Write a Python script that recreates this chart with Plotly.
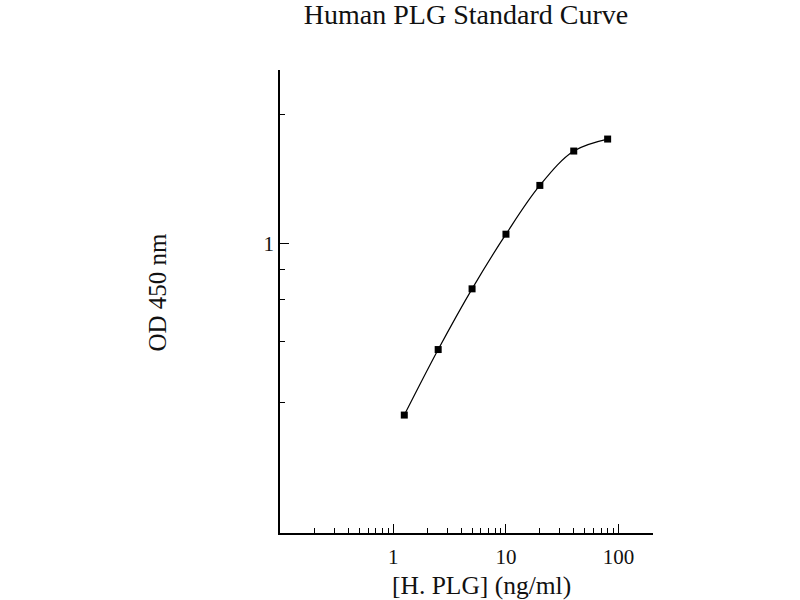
import plotly.graph_objects as go

conc = [1.25, 2.5, 5, 10, 20, 40, 80]
od = [0.400, 0.568, 0.786, 1.053, 1.367, 1.643, 1.752]

x_major = [1, 10, 100]
x_labels = ["1", "10", "100"]
x_minor = [0.2, 0.3, 0.4, 0.5, 0.6, 0.7, 0.8, 0.9,
           2, 3, 4, 5, 6, 7, 8, 9,
           20, 30, 40, 50, 60, 70, 80, 90, 200]
y_major = [1]
y_labels = ["1"]
y_minor = [2, 0.873, 0.742, 0.592, 0.428]

FONT = "Liberation Serif, Times New Roman, serif"

L, T, R, B = 280, 70, 652.7, 532.7
PW, PH = R - L, B - T

fig = go.Figure()
fig.add_trace(go.Scatter(
    x=conc, y=od, mode="lines+markers",
    line=dict(color="black", width=1.2, shape="spline", smoothing=1.0),
    marker=dict(symbol="square", size=7, color="black"),
    showlegend=False,
))

fig.update_layout(
    width=800, height=600,
    margin=dict(l=L, r=800 - R, t=T, b=600 - B),
    paper_bgcolor="white", plot_bgcolor="white",
    font=dict(family=FONT, color="#111", size=20),
    title=dict(text="Human PLG Standard Curve", x=466 / 800, xref="container",
               xanchor="center", y=1 - 14.5 / 600, yref="container", yanchor="middle",
               font=dict(family=FONT, size=28, color="#111")),
    xaxis=dict(type="log", range=[-1.007, 2.306], showline=True, linecolor="black",
               linewidth=1.5, showgrid=False, zeroline=False,
               ticks="inside", ticklen=9, tickwidth=1.3, tickcolor="black",
               tickvals=x_major, ticktext=x_labels,
               tickfont=dict(family=FONT, size=21, color="#111"),
               ticklabelstandoff=4,
               minor=dict(tickvals=x_minor, ticks="inside", ticklen=5,
                          tickwidth=1.3, tickcolor="black", showgrid=False)),
    yaxis=dict(type="log", range=[-0.672, 0.404], showline=True, linecolor="black",
               linewidth=1.5, showgrid=False, zeroline=False,
               ticks="inside", ticklen=9, tickwidth=1.3, tickcolor="black",
               tickvals=y_major, ticktext=y_labels,
               tickfont=dict(family=FONT, size=21, color="#111"),
               minor=dict(tickvals=y_minor, ticks="inside", ticklen=5,
                          tickwidth=1.3, tickcolor="black", showgrid=False)),
    annotations=[
        dict(text="[H. PLG] (ng/ml)", xref="paper", yref="paper",
             x=(481.7 - L) / PW, y=(B - 585) / PH, xanchor="center", yanchor="middle",
             showarrow=False, font=dict(family=FONT, size=25.5, color="#111")),
        dict(text="OD 450 nm", xref="paper", yref="paper",
             x=(158 - L) / PW, y=(B - 291.5) / PH, xanchor="center", yanchor="middle",
             textangle=-90, showarrow=False,
             font=dict(family=FONT, size=25, color="#111")),
    ],
)

fig.write_html("out.html", config={"displayModeBar": False},
               post_script="document.body.style.margin='0';")
